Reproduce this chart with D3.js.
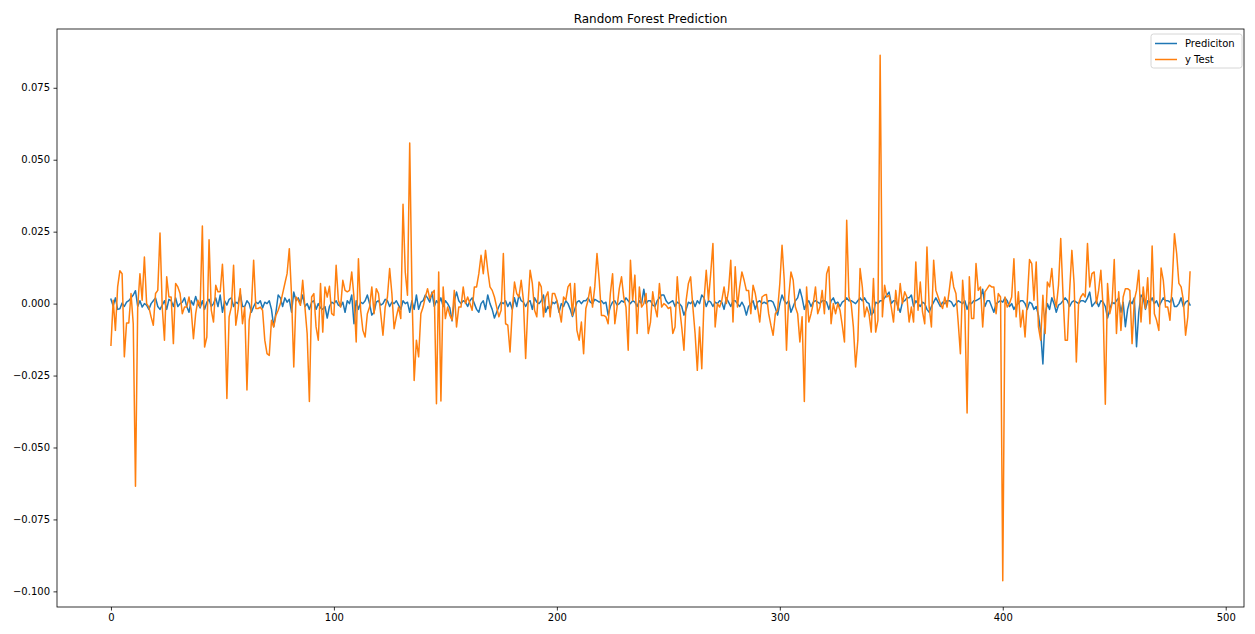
<!DOCTYPE html>
<html>
<head>
<meta charset="utf-8">
<script src="https://cdn.jsdelivr.net/npm/d3@7"></script>
<style>
  body { margin: 0; background: #fff; }
  text { font-family: "DejaVu Sans", sans-serif; }
</style>
</head>
<body>
<div id="chart"></div>
<script>
// Random forest prediction vs. test values
var seriesNames = ["Prediciton", "y Test"];
var xTicks = [0, 100, 200, 300, 400, 500];
var yTicks = [-0.100, -0.075, -0.050, -0.025, 0.000, 0.025, 0.050, 0.075];

var prediction = [
  0.0015, -0.0008, 0.0020, -0.0020, -0.0018, 0.0002, -0.0010, 0.0005, 0.0010, 0.0020,
  0.0030, 0.0045, -0.0010, 0.0010, -0.0012, 0.0000, -0.0005, -0.0020, 0.0000, 0.0010,
  0.0020, -0.0010, -0.0020, -0.0005, 0.0010, -0.0020, 0.0015, 0.0010, -0.0010, 0.0020,
  -0.0010, 0.0000, 0.0005, 0.0020, -0.0010, -0.0030, 0.0010, -0.0005, 0.0025, 0.0000,
  -0.0015, 0.0010, -0.0020, 0.0005, 0.0015, -0.0010, 0.0000, 0.0020, -0.0010, 0.0030,
  -0.0030, 0.0010, -0.0005, 0.0015, 0.0020, -0.0010, 0.0005, 0.0000, 0.0035, -0.0010,
  -0.0010, 0.0010, 0.0000, -0.0030, -0.0010, 0.0005, 0.0000, 0.0010, -0.0015, 0.0005,
  0.0000, 0.0010, -0.0020, -0.0080, -0.0030, 0.0030, 0.0020, -0.0010, 0.0020, 0.0005,
  0.0015, -0.0030, 0.0040, 0.0010, 0.0020, 0.0000, 0.0030, -0.0010, 0.0000, -0.0020,
  0.0005, 0.0010, -0.0020, 0.0000, -0.0015, -0.0020, -0.0010, -0.0050, -0.0010, 0.0005,
  0.0000, 0.0010, -0.0005, -0.0010, 0.0005, -0.0030, 0.0010, 0.0000, 0.0030, -0.0070,
  0.0010, -0.0020, 0.0005, 0.0000, 0.0010, 0.0030, 0.0000, -0.0040, -0.0030, 0.0005,
  0.0010, -0.0005, 0.0000, 0.0015, 0.0010, -0.0010, 0.0005, 0.0000, 0.0010, -0.0005,
  -0.0020, 0.0010, 0.0000, 0.0005, -0.0030, 0.0010, -0.0020, 0.0030, -0.0020, 0.0005,
  0.0010, 0.0030, 0.0020, 0.0005, 0.0040, -0.0010, 0.0010, 0.0000, 0.0020, -0.0010,
  0.0010, 0.0000, -0.0015, -0.0060, 0.0010, 0.0040, 0.0010, 0.0000, 0.0010, 0.0005,
  -0.0010, 0.0010, 0.0020, 0.0000, -0.0020, -0.0030, 0.0000, 0.0010, -0.0020, 0.0030,
  0.0000, -0.0020, -0.0050, -0.0030, -0.0010, 0.0005, 0.0000, 0.0010, -0.0010, 0.0005,
  -0.0020, 0.0020, -0.0010, 0.0030, 0.0010, 0.0005, -0.0010, 0.0005, 0.0010, -0.0020,
  0.0020, 0.0005, 0.0000, 0.0010, 0.0030, -0.0030, -0.0010, -0.0020, 0.0005, 0.0000,
  0.0010, -0.0030, 0.0000, -0.0010, 0.0010, 0.0000, -0.0020, -0.0045, -0.0020, 0.0005,
  0.0010, 0.0000, 0.0010, 0.0010, 0.0020, 0.0005, 0.0000, 0.0015, 0.0010, 0.0005,
  0.0010, 0.0000, 0.0005, -0.0040, -0.0010, 0.0005, 0.0010, -0.0005, 0.0000, 0.0010,
  0.0005, 0.0020, 0.0010, 0.0000, 0.0010, 0.0005, -0.0010, 0.0010, 0.0000, 0.0050,
  0.0000, 0.0010, 0.0010, -0.0005, -0.0010, 0.0010, 0.0020, 0.0030, 0.0030, 0.0010,
  0.0000, 0.0005, 0.0010, -0.0010, 0.0005, 0.0000, -0.0010, -0.0040, -0.0020, 0.0005,
  0.0000, 0.0010, -0.0010, 0.0010, 0.0000, 0.0030, 0.0020, -0.0010, 0.0010, 0.0005,
  -0.0010, 0.0005, 0.0000, 0.0010, 0.0005, -0.0020, 0.0020, 0.0005, -0.0010, 0.0010,
  0.0010, 0.0000, -0.0010, 0.0005, -0.0010, -0.0040, -0.0010, 0.0000, 0.0010, -0.0020,
  0.0005, 0.0010, 0.0000, 0.0005, 0.0000, 0.0010, 0.0010, 0.0005, -0.0015, -0.0040,
  0.0000, 0.0030, 0.0010, 0.0000, 0.0010, -0.0030, -0.0010, 0.0010, 0.0020, 0.0050,
  0.0020, -0.0020, 0.0000, 0.0010, -0.0010, 0.0005, 0.0010, 0.0005, 0.0000, 0.0010,
  0.0010, 0.0005, -0.0020, 0.0010, 0.0020, 0.0000, 0.0005, -0.0010, 0.0005, 0.0010,
  0.0020, 0.0010, 0.0010, 0.0005, 0.0000, 0.0010, 0.0020, 0.0010, 0.0020, 0.0005,
  0.0000, -0.0040, -0.0030, 0.0005, 0.0000, 0.0010, 0.0010, 0.0020, 0.0030, 0.0040,
  0.0000, 0.0010, 0.0010, -0.0010, -0.0030, 0.0005, 0.0010, 0.0020, 0.0020, 0.0030,
  -0.0010, 0.0010, 0.0000, -0.0010, 0.0005, 0.0000, -0.0020, -0.0030, -0.0010, 0.0005,
  0.0020, 0.0005, -0.0010, 0.0005, 0.0000, 0.0010, 0.0010, 0.0005, -0.0010, 0.0000,
  0.0010, 0.0005, 0.0000, 0.0010, -0.0020, 0.0005, 0.0000, 0.0010, 0.0010, 0.0015,
  0.0020, 0.0050, -0.0010, 0.0010, 0.0010, -0.0010, -0.0030, 0.0000, 0.0005, 0.0010,
  0.0005, 0.0020, 0.0010, -0.0010, 0.0000, -0.0020, -0.0005, 0.0000, 0.0010, 0.0010,
  0.0000, -0.0020, 0.0005, 0.0000, -0.0020, -0.0010, -0.0040, -0.0100, -0.0210, -0.0040,
  0.0000, -0.0020, 0.0020, 0.0000, -0.0030, -0.0005, 0.0000, 0.0010, 0.0020, 0.0010,
  -0.0010, 0.0005, 0.0010, 0.0005, 0.0000, 0.0010, 0.0010, 0.0005, 0.0020, 0.0040,
  -0.0010, 0.0000, 0.0010, -0.0010, 0.0010, 0.0005, -0.0010, -0.0050, -0.0020, 0.0005,
  0.0000, 0.0010, 0.0020, -0.0030, 0.0005, -0.0080, -0.0020, 0.0010, 0.0000, 0.0020,
  -0.0150, -0.0030, 0.0030, 0.0020, -0.0020, 0.0010, 0.0005, 0.0020, 0.0000, 0.0010,
  -0.0010, 0.0005, 0.0020, 0.0010, 0.0010, 0.0005, 0.0020, -0.0010, -0.0010, 0.0000,
  0.0020, -0.0010, 0.0005, 0.0010, -0.0005
];

var yTest = [
  -0.0145, 0.0012, -0.0093, 0.0058, 0.0114, 0.0104, -0.0185, -0.0067, -0.0067, 0.0035,
  -0.0070, -0.0635, -0.0012, 0.0104, 0.0012, 0.0162, 0.0000, -0.0012, -0.0046, -0.0075,
  0.0035, 0.0046, 0.0245, -0.0012, -0.0127, 0.0093, 0.0023, 0.0023, -0.0139, 0.0070,
  0.0058, 0.0035, -0.0035, -0.0012, -0.0012, 0.0023, -0.0023, -0.0122, -0.0035, 0.0012,
  -0.0012, 0.0270, -0.0151, -0.0116, 0.0222, -0.0023, -0.0064, 0.0064, 0.0041, 0.0041,
  0.0137, -0.0012, -0.0330, -0.0046, -0.0012, 0.0133, -0.0075, -0.0023, 0.0052, -0.0070,
  -0.0012, -0.0300, -0.0058, -0.0012, 0.0151, -0.0017, -0.0017, -0.0012, -0.0023, -0.0127,
  -0.0174, -0.0180, -0.0058, -0.0081, -0.0041, -0.0023, 0.0000, 0.0035, 0.0070, 0.0104,
  0.0191, 0.0029, -0.0220, 0.0023, 0.0012, -0.0006, 0.0081, -0.0012, -0.0104, -0.0340,
  0.0023, 0.0035, -0.0081, -0.0127, 0.0070, -0.0099, 0.0058, 0.0023, 0.0060, -0.0035,
  -0.0041, 0.0133, 0.0012, -0.0012, 0.0081, 0.0046, 0.0041, 0.0046, 0.0110, 0.0023,
  -0.0133, 0.0156, -0.0023, -0.0093, -0.0116, -0.0035, -0.0012, 0.0058, -0.0035, 0.0052,
  0.0035, -0.0035, -0.0110, -0.0012, 0.0023, 0.0122, 0.0035, -0.0087, -0.0046, -0.0012,
  -0.0052, 0.0345, 0.0110, 0.0029, 0.0558, 0.0046, -0.0267, -0.0127, -0.0185, -0.0035,
  -0.0012, 0.0023, 0.0052, 0.0017, 0.0035, 0.0046, -0.0348, 0.0110, -0.0338, 0.0058,
  -0.0052, -0.0012, -0.0041, -0.0058, 0.0046, -0.0081, -0.0012, -0.0012, 0.0058, 0.0000,
  0.0023, 0.0000, -0.0023, 0.0058, 0.0058, 0.0104, 0.0168, 0.0104, 0.0185, 0.0116,
  0.0058, 0.0046, 0.0023, -0.0012, -0.0046, -0.0023, 0.0174, -0.0070, -0.0075, -0.0168,
  -0.0023, 0.0075, 0.0035, 0.0023, 0.0081, 0.0012, -0.0191, -0.0012, 0.0116, 0.0070,
  -0.0023, -0.0046, 0.0075, 0.0058, -0.0046, 0.0023, 0.0041, -0.0046, 0.0035, 0.0035,
  0.0012, -0.0023, -0.0064, 0.0023, 0.0012, 0.0058, 0.0070, -0.0041, 0.0070, -0.0093,
  -0.0127, -0.0064, -0.0174, -0.0017, 0.0012, 0.0058, -0.0012, 0.0058, 0.0174, 0.0081,
  -0.0041, -0.0041, -0.0046, -0.0070, 0.0035, 0.0104, -0.0070, -0.0012, 0.0052, 0.0093,
  0.0023, -0.0012, -0.0162, 0.0151, 0.0012, 0.0099, -0.0104, 0.0058, -0.0012, 0.0000,
  0.0035, -0.0104, -0.0064, 0.0041, -0.0012, -0.0046, 0.0070, -0.0012, 0.0000, -0.0006,
  -0.0017, -0.0012, -0.0104, -0.0081, 0.0093, -0.0012, -0.0081, -0.0162, 0.0012, 0.0070,
  0.0093, -0.0012, -0.0104, -0.0232, -0.0081, -0.0226, 0.0012, 0.0116, 0.0012, 0.0104,
  0.0209, -0.0081, 0.0000, -0.0012, 0.0012, 0.0058, 0.0000, 0.0046, 0.0151, -0.0064,
  0.0128, -0.0012, 0.0058, 0.0110, 0.0081, 0.0046, 0.0046, -0.0035, 0.0064, 0.0035,
  -0.0012, -0.0064, 0.0023, 0.0029, 0.0032, -0.0035, -0.0075, -0.0110, -0.0035, -0.0023,
  0.0070, 0.0203, 0.0081, -0.0162, 0.0023, 0.0110, 0.0081, -0.0012, -0.0035, -0.0133,
  -0.0046, -0.0340, 0.0058, -0.0064, -0.0035, 0.0000, 0.0058, -0.0035, -0.0012, 0.0046,
  -0.0035, 0.0104, 0.0128, -0.0070, 0.0000, -0.0035, 0.0000, -0.0023, -0.0075, -0.0133,
  0.0290, 0.0023, 0.0000, -0.0081, -0.0220, -0.0127, 0.0122, 0.0058, -0.0046, -0.0012,
  -0.0035, -0.0099, 0.0087, -0.0099, -0.0058, 0.0863, -0.0046, 0.0064, 0.0023, 0.0029,
  -0.0012, -0.0064, 0.0046, -0.0023, 0.0070, 0.0000, 0.0041, 0.0023, -0.0064, -0.0012,
  -0.0064, 0.0145, -0.0023, 0.0075, -0.0029, -0.0070, 0.0197, -0.0012, -0.0081, 0.0151,
  0.0046, 0.0023, 0.0000, -0.0017, 0.0023, -0.0012, 0.0046, 0.0110, 0.0058, 0.0035,
  -0.0064, -0.0174, 0.0081, -0.0023, -0.0380, 0.0093, -0.0052, -0.0052, 0.0139, 0.0046,
  0.0058, -0.0081, 0.0041, 0.0052, 0.0064, 0.0058, 0.0058, -0.0035, 0.0035, 0.0023,
  -0.0963, 0.0023, -0.0012, 0.0000, 0.0023, 0.0156, -0.0046, 0.0041, -0.0081, -0.0023,
  -0.0116, 0.0012, 0.0153, 0.0139, 0.0012, 0.0145, -0.0081, -0.0127, 0.0029, -0.0104,
  0.0075, 0.0058, 0.0122, 0.0023, -0.0012, 0.0064, 0.0226, 0.0035, -0.0127, -0.0127,
  0.0046, 0.0185, 0.0070, -0.0203, 0.0000, 0.0023, 0.0035, 0.0023, 0.0209, 0.0058,
  0.0104, 0.0110, 0.0000, 0.0046, 0.0116, -0.0012, -0.0350, 0.0070, -0.0035, 0.0000,
  0.0153, -0.0104, 0.0041, -0.0093, 0.0023, 0.0052, 0.0052, 0.0046, -0.0139, 0.0012,
  0.0046, 0.0116, -0.0064, 0.0058, -0.0017, 0.0090, -0.0070, 0.0200, -0.0035, -0.0058,
  -0.0093, 0.0124, 0.0081, -0.0012, -0.0012, -0.0058, 0.0070, 0.0243, 0.0174, 0.0070,
  0.0058, 0.0012, -0.0110, -0.0046, 0.0110
];

var colors = ["#1f77b4", "#ff7f0e"];

var margin = {top: 29, right: 11, bottom: 27, left: 57},
    width = 1255 - margin.left - margin.right,
    height = 634 - margin.top - margin.bottom;

var svg = d3.select("#chart")
  .append("svg")
    .attr("width", 1255)
    .attr("height", 634)
  .append("g")
    .attr("transform", "translate(" + margin.left + "," + margin.top + ")");

// matplotlib-style 5% padding around the data range
var n = yTest.length;
var xPad = (n - 1) * 0.05;
var x = d3.scaleLinear()
  .domain([-xPad, n - 1 + xPad])
  .range([0, width]);

var allVals = prediction.concat(yTest);
var yMin = d3.min(allVals), yMax = d3.max(allVals);
var yPad = (yMax - yMin) * 0.05;
var y = d3.scaleLinear()
  .domain([yMin - yPad, yMax + yPad])
  .range([height, 0]);

var fmtY = function(d) { return d3.format(".3f")(d).replace("-", "\u2212"); };

var xAxis = svg.append("g")
  .attr("transform", "translate(0," + height + ")")
  .call(d3.axisBottom(x).tickValues(xTicks).tickSize(3.5).tickPadding(3.5).tickSizeOuter(0));

var yAxis = svg.append("g")
  .call(d3.axisLeft(y).tickValues(yTicks).tickFormat(fmtY).tickSize(3.5).tickPadding(3.5).tickSizeOuter(0));

[xAxis, yAxis].forEach(function(a) {
  a.select(".domain").remove();
  a.selectAll("line").attr("stroke", "#000").attr("stroke-width", 0.8);
  a.selectAll("text")
    .attr("fill", "#000")
    .style("font-family", "DejaVu Sans")
    .style("font-size", "10px");
});

svg.append("clipPath").attr("id", "clip")
  .append("rect").attr("width", width).attr("height", height);

var line = d3.line()
  .x(function(d, i) { return x(i); })
  .y(function(d) { return y(d); });

svg.append("g").attr("clip-path", "url(#clip)")
  .selectAll("path")
  .data([prediction, yTest])
  .enter()
  .append("path")
    .attr("d", line)
    .attr("fill", "none")
    .attr("stroke", function(d, i) { return colors[i]; })
    .attr("stroke-width", 1.5)
    .attr("stroke-linejoin", "round")
    .attr("stroke-linecap", "square");

// frame
svg.append("rect")
  .attr("width", width)
  .attr("height", height)
  .attr("fill", "none")
  .attr("stroke", "#000")
  .attr("stroke-width", 0.8);

svg.append("text")
  .attr("x", width / 2)
  .attr("y", -6)
  .attr("text-anchor", "middle")
  .style("font-size", "12px")
  .text("Random Forest Prediction");

// legend
var legend = svg.append("g")
  .attr("transform", "translate(" + (width - 93) + ",5)");

legend.append("rect")
  .attr("width", 91)
  .attr("height", 34)
  .attr("rx", 2.5)
  .attr("fill", "#fff")
  .attr("fill-opacity", 0.8)
  .attr("stroke", "#cccccc")
  .attr("stroke-width", 0.8);

var items = legend.selectAll(".item")
  .data(seriesNames)
  .enter()
  .append("g")
    .attr("transform", function(d, i) { return "translate(0," + (9.5 + i * 16) + ")"; });

items.append("line")
  .attr("x1", 4).attr("x2", 26)
  .attr("stroke", function(d, i) { return colors[i]; })
  .attr("stroke-width", 1.5);

items.append("text")
  .attr("x", 34)
  .attr("dy", "0.35em")
  .style("font-size", "10px")
  .text(function(d) { return d; });
</script>
</body>
</html>
